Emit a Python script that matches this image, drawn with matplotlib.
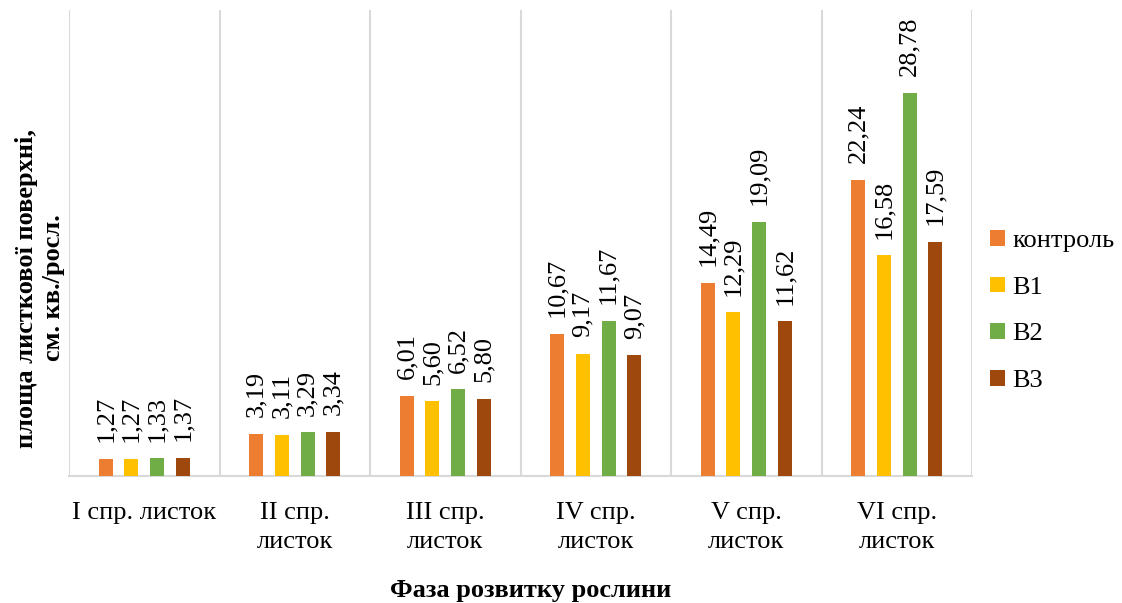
import matplotlib
matplotlib.use("Agg")
import matplotlib.pyplot as plt
import numpy as np
from matplotlib.patches import Patch

categories = ["I спр. листок", "II спр.\nлисток", "III спр.\nлисток",
              "IV спр.\nлисток", "V спр.\nлисток", "VI спр.\nлисток"]
series_names = ["контроль", "В1", "В2", "В3"]
kontrol = [1.27, 3.19, 6.01, 10.67, 14.49, 22.24]
v1 = [1.27, 3.11, 5.60, 9.17, 12.29, 16.58]
v2 = [1.33, 3.29, 6.52, 11.67, 19.09, 28.78]
v3 = [1.37, 3.34, 5.80, 9.07, 11.62, 17.59]
series = [kontrol, v1, v2, v3]
colors = ["#ED7D31", "#FFC000", "#70AD47", "#9E480E"]

plt.rcParams['font.family'] = ['Liberation Serif', 'DejaVu Serif']

fig = plt.figure(figsize=(11.22, 6.03), dpi=100)
ax = fig.add_axes([69/1122, 1-476/603, (972-69)/1122, (476-10)/603])

x = np.arange(len(categories))
spacing = 0.17
width = 0.093
for i, (vals, col) in enumerate(zip(series, colors)):
    pos = x + (i - 1.5) * spacing
    ax.bar(pos, vals, width=width, color=col, zorder=3)
    for p, v in zip(pos, vals):
        ax.annotate(f"{v:.2f}".replace(".", ","), (p, v), xytext=(0, 12),
                    textcoords="offset points", rotation=90, ha="center",
                    va="bottom", fontsize=19, color="black")

ax.set_xlim(-0.5, len(categories) - 0.5)
ax.set_ylim(0, 35)
ax.set_yticks([])
ax.set_xticks(x)
ax.set_xticklabels(categories, fontsize=19, linespacing=1.4)
ax.tick_params(axis="x", length=0, pad=19)
ax.set_xticks(np.arange(-0.5, len(categories)), minor=True)
ax.tick_params(axis="x", which="minor", length=0)
ax.grid(axis="x", which="minor", color="#D9D9D9", linewidth=1.5, zorder=0)
for s in ["top", "right", "left"]:
    ax.spines[s].set_visible(False)
ax.spines["bottom"].set_color("#D9D9D9")
ax.spines["bottom"].set_linewidth(1.5)

fig.text(40/1122, 1-288/603, "площа листкової поверхні,\nсм. кв./росл.", rotation=90,
         ha="center", va="center", fontsize=19, fontweight="bold", linespacing=1.2)
fig.text(531/1122, 1-590/603, "Фаза розвитку рослини", ha="center", va="center",
         fontsize=19, fontweight="bold")

handles = [Patch(facecolor=c, label=n) for c, n in zip(colors, series_names)]
fig.legend(handles=handles, loc="center left", bbox_to_anchor=(990/1122, 1-311/603),
           frameon=False, fontsize=19, handlelength=0.55, handleheight=0.55,
           handletextpad=0.3, labelspacing=0.92, borderaxespad=0, borderpad=0)

fig.savefig("out.png", dpi=100)
